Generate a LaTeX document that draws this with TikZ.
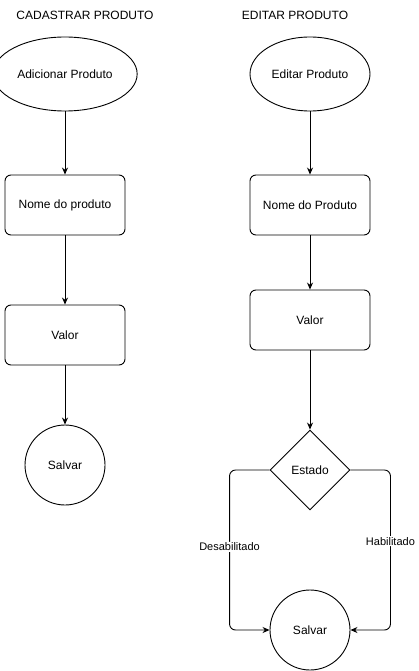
\documentclass[tikz,border=0pt]{standalone}
\usepackage{fontspec}
\setmainfont{Liberation Sans}
\usetikzlibrary{shapes.geometric,arrows.meta}

\begin{document}
\begin{tikzpicture}[x=1pt,y=-1pt,line width=0.9pt,font=\fontsize{12}{14}\selectfont,
	caixa/.style={draw,rounded corners=6pt,minimum width=120pt,minimum height=60pt},
	elipse/.style={draw,ellipse,minimum width=120pt,minimum height=74pt},
	circulo/.style={draw,circle,minimum size=80pt},
	losango/.style={draw,diamond,aspect=1,minimum width=80pt,minimum height=80pt,inner sep=0pt},
	seta/.style={-{Stealth[length=7pt,width=6pt]}},
	rotulo/.style={fill=white,inner sep=1pt,font=\fontsize{11}{13}\selectfont}]
		\useasboundingbox (0,0) rectangle (418,671);
		% titulos
		\node (tcad) at (85,15) {CADASTRAR PRODUTO};
		\node (tedit) at (295,15) {EDITAR PRODUTO};
		% cadastrar
		\node[elipse] (adicionar) at (65,74) {Adicionar Produto};
		\node[caixa] (nome1) at (65,205) {Nome do produto};
		\node[caixa] (valor1) at (65,335) {Valor};
		\node[circulo] (salvar1) at (65,465) {Salvar};
		% editar
		\node[elipse] (editar) at (310,74) {Editar Produto};
		\node[caixa] (nome2) at (310,205) {Nome do Produto};
		\node[caixa] (valor2) at (310,320) {Valor};
		\node[losango] (estado) at (310,470) {Estado};
		\node[circulo] (salvar2) at (310,630) {Salvar};
		\foreach \a / \b in {adicionar/nome1,nome1/valor1,valor1/salvar1,editar/nome2,nome2/valor2,valor2/estado} \draw[seta] (\a) -- (\b);
		\draw[seta,rounded corners=6pt] (estado.west) -- ++(-40,0) -- node[rotulo,pos=0.48] {Desabilitado} ++(0,160) -- (salvar2.west);
		\draw[seta,rounded corners=6pt] (estado.east) -- ++(40,0) -- node[rotulo,pos=0.445] {Habilitado} ++(0,160) -- (salvar2.east);
	\end{tikzpicture}
\end{document}
